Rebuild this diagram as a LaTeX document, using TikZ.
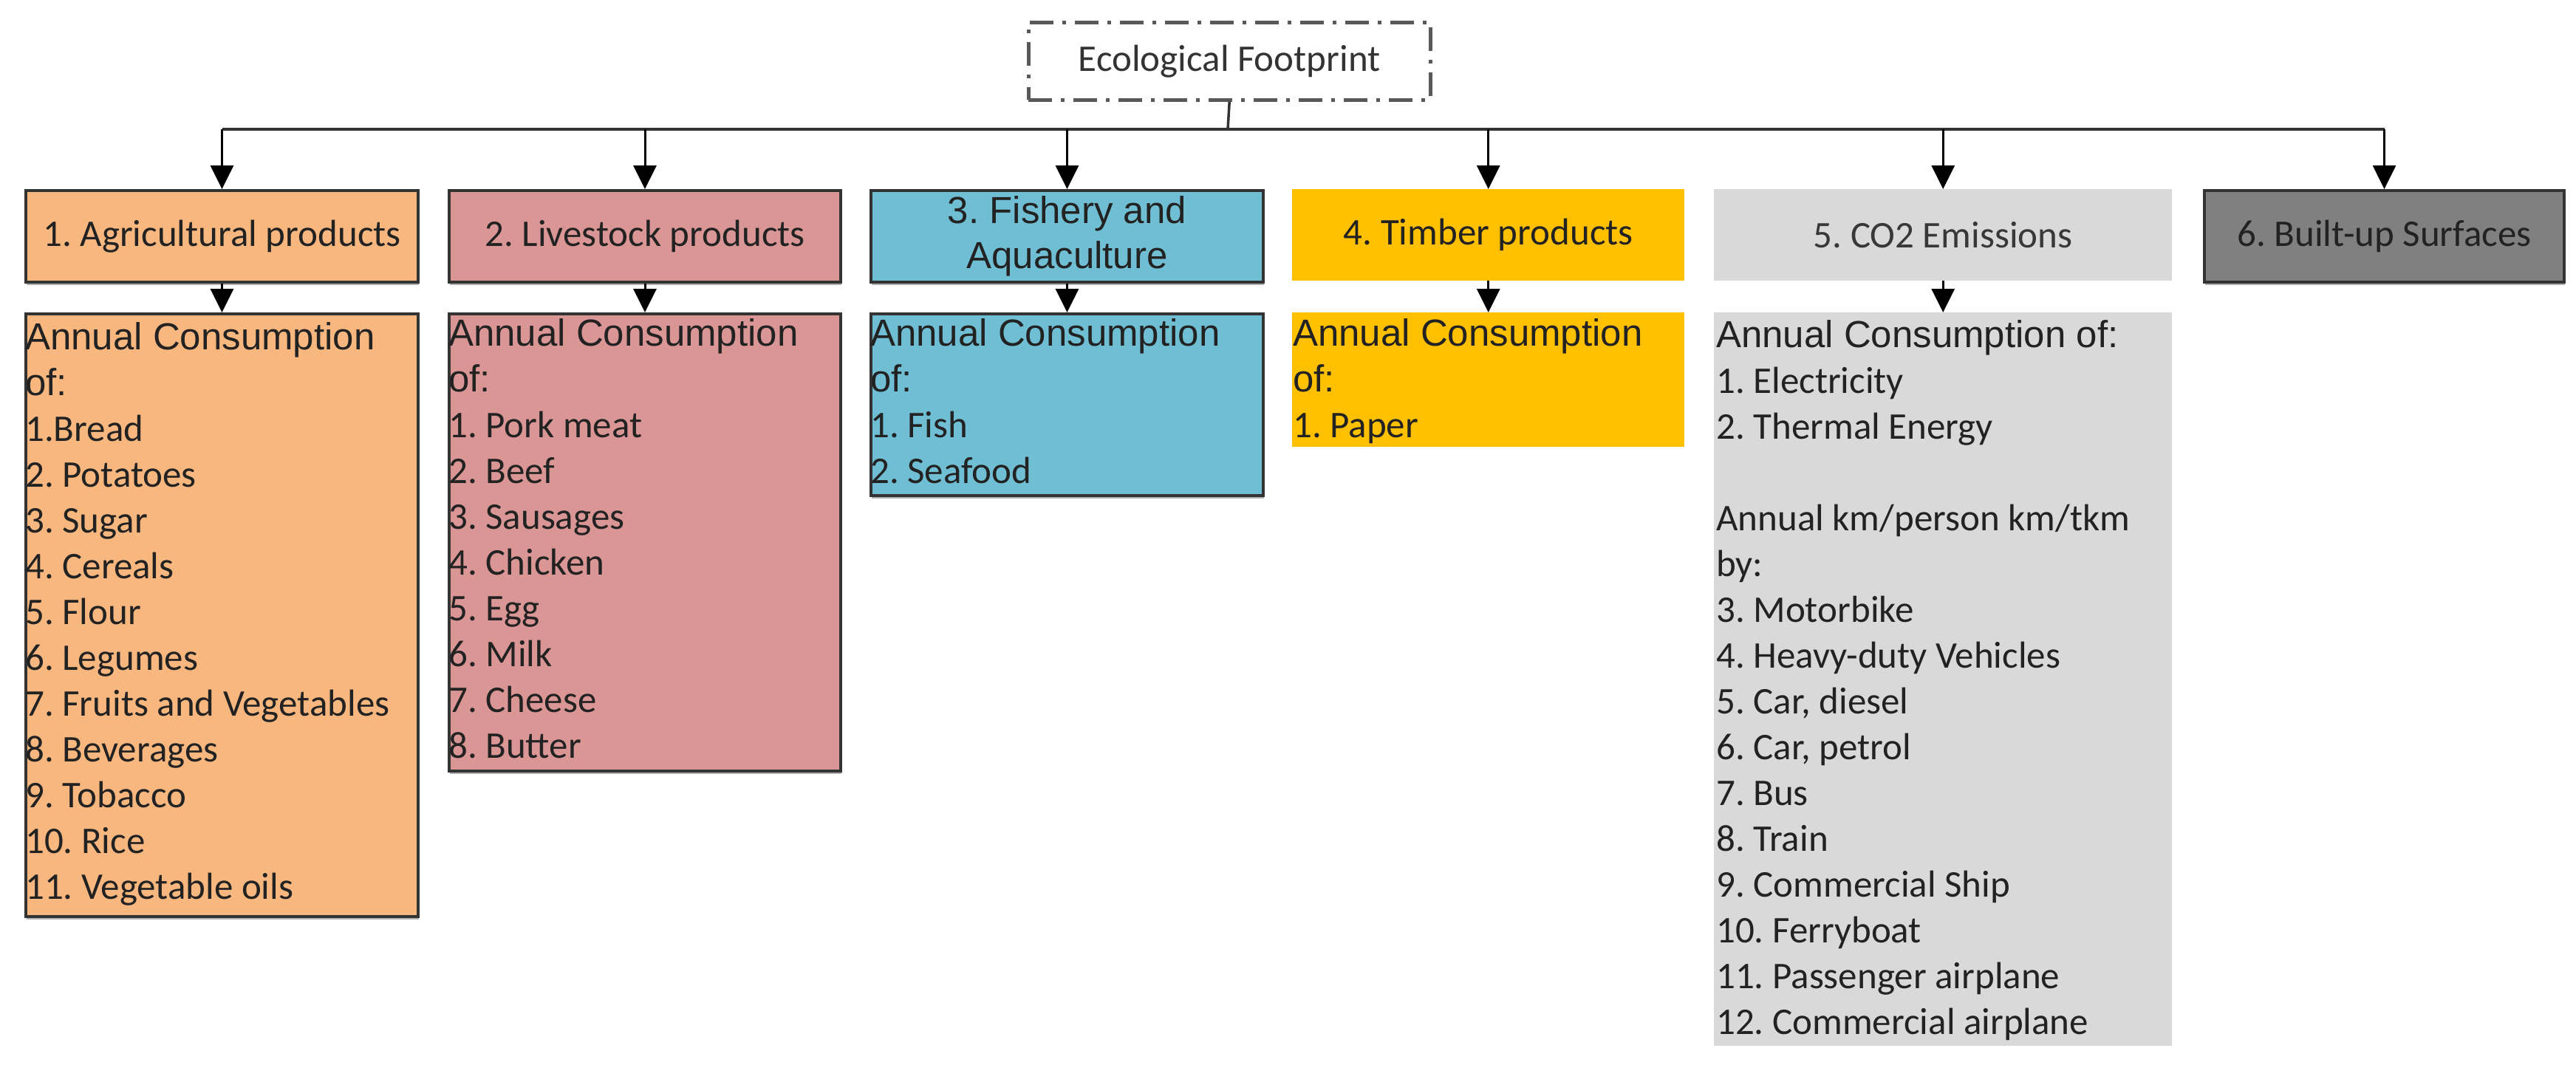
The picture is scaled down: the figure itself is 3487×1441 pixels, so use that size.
\documentclass[tikz,border=0pt]{standalone}
\usepackage{fontspec}
\usetikzlibrary{arrows.meta}
\newfontfamily\calfnt{Carlito}
\newfontfamily\arlfnt{Liberation Sans}
\frenchspacing
\definecolor{cAgri}{HTML}{F8B77F}
\definecolor{cLive}{HTML}{D99694}
\definecolor{cFish}{HTML}{70BED3}
\definecolor{cTimb}{HTML}{FFC000}
\definecolor{cCO}{HTML}{D9D9D9}
\definecolor{cBuilt}{HTML}{808080}
\definecolor{cEdge}{HTML}{333333}
\definecolor{cText}{HTML}{222222}
\tikzset{
  hbox/.style={rectangle, anchor=north west, minimum height=124pt, inner sep=0pt,
    text=cText, font=\calfnt\fontsize{51pt}{62pt}\selectfont\frenchspacing, align=center},
  edged/.style={draw=cEdge, line width=4pt,
    preaction={fill=black!30, transform canvas={shift={(1pt,-4pt)}}}},
  lbox/.style={rectangle, anchor=north west, inner sep=0pt},
  ltext/.style={anchor=north west, inner sep=0pt, align=left, text=cText,
    font=\calfnt\fontsize{51pt}{62pt}\selectfont\frenchspacing},
  conn/.style={draw=cEdge, line width=3.5pt},
  arr/.style={draw=black, line width=3pt, -{Triangle[length=32pt,width=31pt]}},
}
\newcommand{\Ar}[1]{{\arlfnt #1}}
\newcommand{\fst}[1]{\rule{0pt}{#1pt}}
\begin{document}
\begin{tikzpicture}[x=1pt,y=-1pt]
\useasboundingbox (0,0) rectangle (3487,1441);

% root
\node[rectangle, draw=black!65, line width=4.5pt,
  dash pattern=on 32pt off 12pt on 5pt off 12pt,
  minimum width=544pt, minimum height=105pt, anchor=north west,
  text=black!80, font=\calfnt\fontsize{51pt}{62pt}\selectfont]
  (eco) at (1390,28) {Ecological Footprint};

% headers
\node[hbox, edged, fill=cAgri, minimum width=531pt] (h1) at (33,256) {1. Agricultural products};
\node[hbox, edged, fill=cLive, minimum width=530pt] (h2) at (606,256) {2. Livestock products};
\node[hbox, edged, fill=cFish, minimum width=531pt,
  font=\arlfnt\fontsize{51pt}{61pt}\selectfont\frenchspacing] (h3) at (1177,256) {3. Fishery and\\Aquaculture};
\node[hbox, fill=cTimb, minimum width=531pt] (h4) at (1749,256) {4. Timber products};
\node[hbox, fill=cCO, minimum width=620pt, text=black!78] (h5) at (2320,256) {5. CO2 Emissions};
\node[hbox, edged, fill=cBuilt, minimum width=487pt] (h6) at (2982,256) {6. Built-up Surfaces};

% lists (boxes)
\node[lbox, edged, fill=cAgri, minimum width=531pt, minimum height=816pt] (l1) at (33,423) {};
\node[lbox, edged, fill=cLive, minimum width=530pt, minimum height=619pt] (l2) at (606,423) {};
\node[lbox, edged, fill=cFish, minimum width=531pt, minimum height=246pt] (l3) at (1177,423) {};
\node[lbox, fill=cTimb, minimum width=531pt, minimum height=182pt] (l4) at (1749,423) {};
\node[lbox, fill=cCO, minimum width=620pt, minimum height=993pt] (l5) at (2320,423) {};

% lists (texts)
\node[ltext] (t1) at ([xshift=1pt]l1.north west) {\fst{50}\Ar{Annual Consumption}\\ \Ar{of:}\\
1.Bread\\ 2. Potatoes\\ 3. Sugar\\ 4. Cereals\\ 5. Flour\\ 6. Legumes\\
7. Fruits and Vegetables\\ 8. Beverages\\ 9. Tobacco\\ 10. Rice\\ 11. Vegetable oils};
\node[ltext] (t2) at ([xshift=1pt]l2.north west) {\fst{45}\Ar{Annual Consumption}\\ \Ar{of:}\\
1. Pork meat\\ 2. Beef\\ 3. Sausages\\ 4. Chicken\\ 5. Egg\\ 6. Milk\\ 7. Cheese\\ 8. Butter};
\node[ltext] (t3) at ([xshift=1pt]l3.north west) {\fst{45}\Ar{Annual Consumption}\\ \Ar{of:}\\
1. Fish\\ 2. Seafood};
\node[ltext] (t4) at ([xshift=1pt]l4.north west) {\fst{45}\Ar{Annual Consumption}\\ \Ar{of:}\\
1. Paper};
\node[ltext] (t5) at ([xshift=3pt]l5.north west) {\fst{47}\Ar{Annual Consumption of:}\\
1. Electricity\\ 2. Thermal Energy\\ {}\\ Annual km/person km/tkm\\ by:\\
3. Motorbike\\ 4. Heavy-duty Vehicles\\ 5. Car, diesel\\ 6. Car, petrol\\ 7. Bus\\ 8. Train\\
9. Commercial Ship\\ 10. Ferryboat\\ 11. Passenger airplane\\ 12. Commercial airplane};

% connectors
\coordinate (bus) at (1662,175);
\draw[conn] (eco.south) -- (bus);
\draw[conn] (h1.north |- bus) -- (h6.north |- bus);
\foreach \h in {h1,h2,h3,h4,h5,h6}{
  \draw[arr] (\h.north |- bus) -- (\h.north);
}
\draw[arr] (h1.south) -- (l1.north);
\draw[arr] (h2.south) -- (l2.north);
\draw[arr] (h3.south) -- (l3.north);
\draw[arr] (h4.south) -- (l4.north);
\draw[arr] (h5.south) -- (l5.north);
\end{tikzpicture}
\end{document}
